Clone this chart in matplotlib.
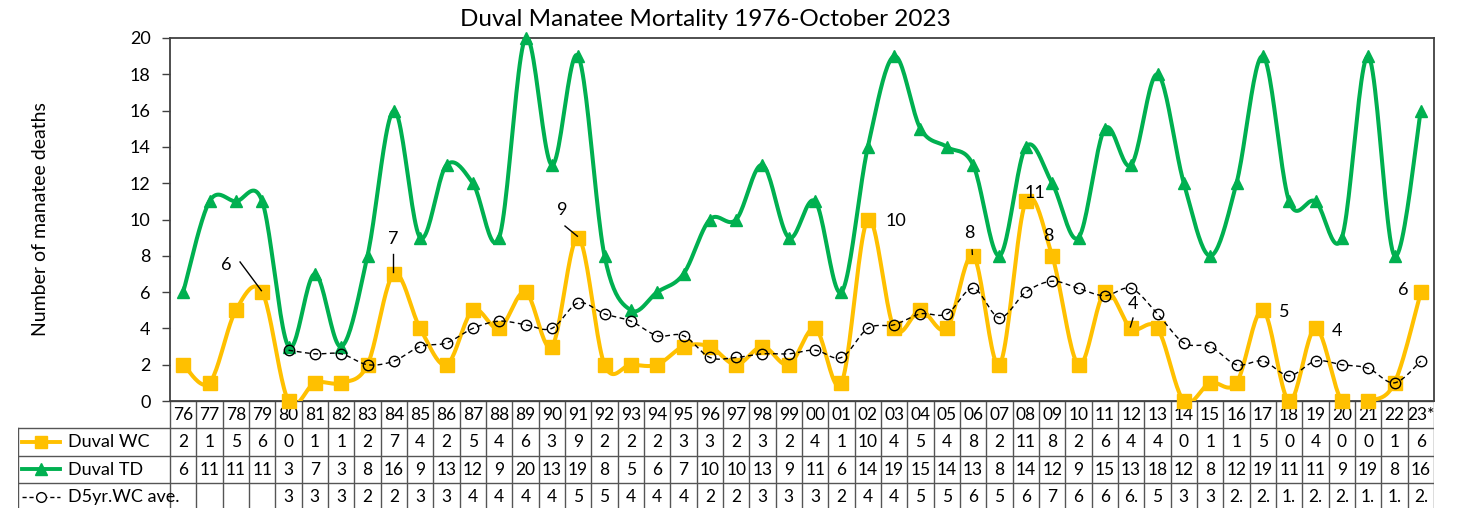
import numpy as np
import matplotlib
matplotlib.use("Agg")
import matplotlib.pyplot as plt

plt.rcParams['font.family'] = ['Lato', 'DejaVu Sans']

years = ['76', '77', '78', '79', '80', '81', '82', '83', '84', '85', '86', '87',
         '88', '89', '90', '91', '92', '93', '94', '95', '96', '97', '98', '99',
         '00', '01', '02', '03', '04', '05', '06', '07', '08', '09', '10', '11',
         '12', '13', '14', '15', '16', '17', '18', '19', '20', '21', '22', '23*']
wc = [2, 1, 5, 6, 0, 1, 1, 2, 7, 4, 2, 5, 4, 6, 3, 9, 2, 2, 2, 3, 3, 2, 3, 2,
      4, 1, 10, 4, 5, 4, 8, 2, 11, 8, 2, 6, 4, 4, 0, 1, 1, 5, 0, 4, 0, 0, 1, 6]
td = [6, 11, 11, 11, 3, 7, 3, 8, 16, 9, 13, 12, 9, 20, 13, 19, 8, 5, 6, 7, 10, 10, 13, 9,
      11, 6, 14, 19, 15, 14, 13, 8, 14, 12, 9, 15, 13, 18, 12, 8, 12, 19, 11, 11, 9, 19, 8, 16]
ave5 = [np.nan, np.nan, np.nan, np.nan, 2.8, 2.6, 2.6, 2.0, 2.2, 3.0, 3.2, 4.0,
        4.4, 4.2, 4.0, 5.4, 4.8, 4.4, 3.6, 3.6, 2.4, 2.4, 2.6, 2.6,
        2.8, 2.4, 4.0, 4.2, 4.8, 4.8, 6.2, 4.6, 6.0, 6.6, 6.2, 5.8,
        6.2, 4.8, 3.2, 3.0, 2.0, 2.2, 1.4, 2.2, 2.0, 1.8, 1.0, 2.2]
# texts as shown (truncated) in the table cells
ave5_txt = ['', '', '', '', '3', '3', '3', '2', '2', '3', '3', '4', '4', '4', '4', '5',
            '5', '4', '4', '4', '2', '2', '3', '3', '3', '2', '4', '4', '5', '5', '6', '5',
            '6', '7', '6', '6', '6.', '5', '3', '3', '2.', '2.', '1.', '2.', '2.', '1.', '1.', '2.']

# data labels: (text, index of point, text x, text y, leader start or None)
labels = [('6', 3, 1.63, 7.5, (2.16, 7.66)),
          ('7', 8, 7.97, 8.9, (7.97, 8.1)),
          ('9', 15, 14.39, 10.5, (14.5, 9.64)),
          ('10', 26, 27.05, 9.9, None),
          ('8', 30, 29.85, 9.25, (29.96, 8.32)),
          ('11', 32, 32.35, 11.45, None),
          ('8', 33, 32.85, 9.1, None),
          ('4', 36, 36.07, 5.35, (36.07, 4.57)),
          ('5', 41, 41.8, 4.9, None),
          ('4', 43, 43.8, 3.85, None),
          ('6', 47, 46.33, 6.1, None)]

YELLOW = '#FFC000'
GREEN = '#00B050'
W, H = 1474, 508


def smooth(x, y, n=24):
    # excel style smoothed line (bezier through points)
    p = np.column_stack([x, y]).astype(float)
    out = []
    for i in range(len(p) - 1):
        p0 = p[i - 1] if i > 0 else p[i]
        p1, p2 = p[i], p[i + 1]
        p3 = p[i + 2] if i + 2 < len(p) else p[i + 1]
        c1 = p1 + (p2 - p0) / 6
        c2 = p2 - (p3 - p1) / 6
        t = np.linspace(0, 1, n)[:, None]
        seg = (1 - t) ** 3 * p1 + 3 * (1 - t) ** 2 * t * c1 + 3 * (1 - t) * t ** 2 * c2 + t ** 3 * p2
        out.append(seg if i == 0 else seg[1:])
    out = np.vstack(out)
    return out[:, 0], out[:, 1]


fig = plt.figure(figsize=(W / 100, H / 100), dpi=100)

# table axes (drawn first, below chart)
x0, x1 = 170, 1434
colw = (x1 - x0) / len(years)
labw = (x0 - 18) / colw
tab = fig.add_axes([18 / W, 0, (x1 - 18) / W, (H - 401) / H])
tab.set_xlim(-0.5 - labw, len(years) - 0.5)
tab.set_ylim(3.92, 0)
tab.axis('off')
lc = '#555555'
xl = -0.5 - labw
xr = len(years) - 0.5
tab.plot([-0.5, xr], [0, 0], color=lc, lw=1)
for r in [1, 2, 3]:
    tab.plot([xl, xr], [r, r], color=lc, lw=1)
tab.plot([xl, xl], [1, 3.92], color=lc, lw=1)
for k in range(len(years) + 1):
    tab.plot([k - 0.5, k - 0.5], [0, 3.92], color=lc, lw=1)
fs = 12.5
for i, yr in enumerate(years):
    tab.text(i, 0.52, yr, ha='center', va='center', fontsize=fs)
    tab.text(i, 1.52, str(wc[i]), ha='center', va='center', fontsize=fs)
    tab.text(i, 2.52, str(td[i]), ha='center', va='center', fontsize=fs)
    tab.text(i, 3.52, ave5_txt[i], ha='center', va='center', fontsize=fs)

kx = [xl + 0.15, xl + 1.6]
km = xl + 0.88
tab.plot(kx, [1.5, 1.5], color=YELLOW, lw=2.8)
tab.plot([km], [1.5], marker='s', ms=9, color=YELLOW)
tab.plot(kx, [2.5, 2.5], color=GREEN, lw=2.8)
tab.plot([km], [2.5], marker='^', ms=8, color=GREEN)
tab.plot(kx, [3.5, 3.5], color='black', lw=1, ls=(0, (3, 2)))
tab.plot([km], [3.5], marker='o', ms=7, mfc='white', mec='black', mew=1)
tab.text(xl + 1.9, 1.52, 'Duval WC', ha='left', va='center', fontsize=fs + 0.5)
tab.text(xl + 1.9, 2.52, 'Duval TD', ha='left', va='center', fontsize=fs + 0.5)
tab.text(xl + 1.9, 3.52, 'D5yr.WC ave.', ha='left', va='center', fontsize=fs + 0.5)

# main chart
ax = fig.add_axes([x0 / W, (H - 401) / H, (x1 - x0) / W, (401 - 38) / H])
ax.patch.set_alpha(0)
xs = np.arange(len(years))

sx, sy = smooth(xs, td)
ax.plot(sx, sy, color=GREEN, lw=2.9, solid_capstyle='round', zorder=3)
ax.plot(xs, td, ls='none', marker='^', ms=9, color=GREEN, clip_on=False, zorder=4)

sx, sy = smooth(xs, wc)
ax.plot(sx, sy, color=YELLOW, lw=2.9, solid_capstyle='round', zorder=5)
ax.plot(xs, wc, ls='none', marker='s', ms=9.5, color=YELLOW, clip_on=False, zorder=6)

a5 = np.array(ave5)
ok = ~np.isnan(a5)
sx, sy = smooth(xs[ok], a5[ok])
ax.plot(sx, sy, color='black', lw=1, ls=(0, (3.5, 2.5)), zorder=7)
ax.plot(xs[ok], a5[ok], ls='none', marker='o', ms=7.5, mfc='none', mec='black', mew=1,
        clip_on=False, zorder=8)

for txt, i, tx, ty, lead in labels:
    ax.text(tx, ty, txt, ha='center', va='center', fontsize=13, zorder=9)
    if lead is not None:
        ax.plot([lead[0], i - 0.03], [lead[1], wc[i] + 0.08],
                color='black', lw=1, zorder=9)

ax.set_xlim(-0.5, len(years) - 0.5)
ax.set_ylim(0, 20)
ax.set_yticks(range(0, 21, 2))
ax.set_xticks([])
ax.tick_params(axis='y', direction='out', length=6, width=1, color='#404040',
               labelsize=13, pad=8)
for s in ax.spines.values():
    s.set_color('#404040')
    s.set_linewidth(1.3)
ax.set_ylabel('Number of manatee deaths', fontsize=14, labelpad=58)

fig.text(705 / W, 1 - 20 / H, 'Duval Manatee Mortality 1976-October 2023',
         ha='center', va='center', fontsize=17.5)

fig.savefig('out.png', dpi=100)
